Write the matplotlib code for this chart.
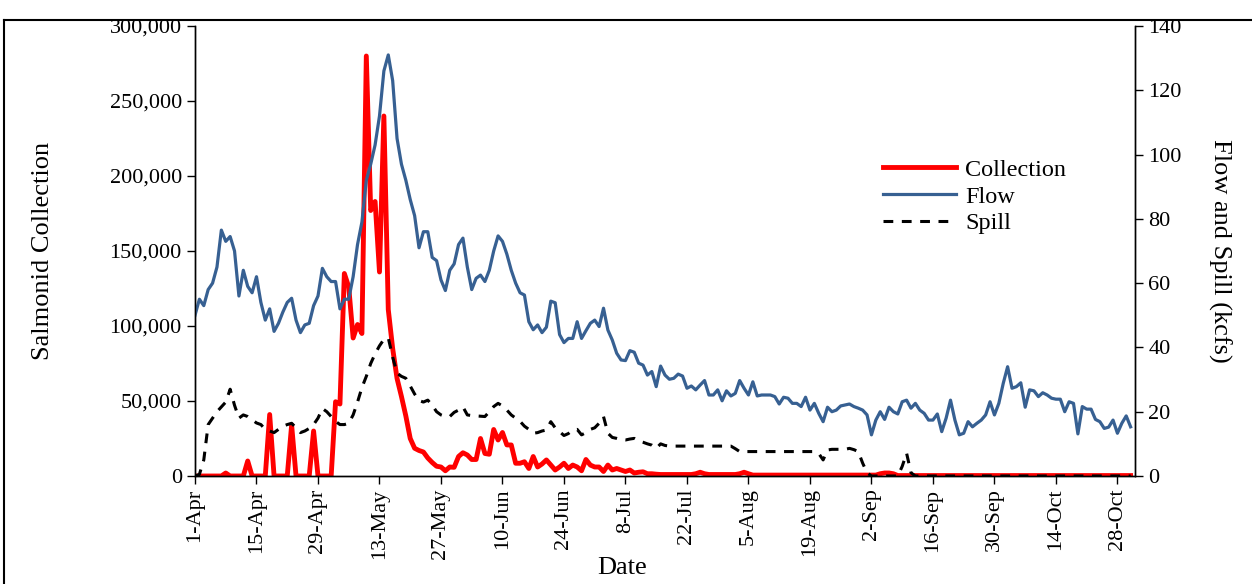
import numpy as np
import matplotlib
matplotlib.use('Agg')
import matplotlib.pyplot as plt
from matplotlib.ticker import FuncFormatter
from matplotlib.lines import Line2D

plt.rcParams['font.family'] = ['Liberation Serif', 'DejaVu Serif']

# daily values, 1-Apr .. 31-Oct
collection = [0, 0, 0, 0, 0, 0, 0, 2, 0, 0, 0, 0, 10, 0, 0, 0, 0, 41, 0, 0,
              0, 0, 34, 0, 0, 0, 0, 30, 0, 0, 0, 0, 49.5, 48, 135, 126, 92, 101, 95, 280,
              177, 183, 136, 240, 111, 85, 65, 53, 40, 25, 18.5, 17, 16, 12, 9, 6.5, 6, 3.5, 6, 5.8,
              13, 15.5, 14, 11, 11, 25, 15, 14.5, 31, 24, 29, 20.7, 20.7, 8.5, 8.5, 9.5, 5, 13, 6, 8,
              10.7, 7.3, 4, 6, 8.5, 5, 7.3, 6, 3.5, 11, 7.3, 6, 6, 3, 7.3, 4, 5, 4, 3, 4,
              2, 2.5, 2.8, 1.5, 1.5, 1.2, 1, 1, 1, 1, 1, 1, 1, 1, 1.5, 2.5, 1.5, 1, 1, 1,
              1, 1, 1, 1, 1.5, 2.5, 1.5] + [0.6] * 29 + [1.5, 2, 2, 1.5] + [0.3] * 54
collection = np.array(collection) * 1000  # fish

flow = [50, 55, 53, 58, 60, 65, 76.5, 73, 74.5, 70, 56, 64, 59, 57, 62, 54, 48.5, 52, 45, 47.5,
        51, 54, 55.3, 48.5, 44.6, 47, 47.5, 53, 56, 64.6, 62, 60.5, 60.5, 52, 55, 55, 62, 72, 79, 92,
        97, 103, 112, 126, 131, 123, 105, 97, 92, 86, 81, 71, 76, 76, 68, 67, 61, 57.7, 64, 66,
        72, 74, 65, 58, 61.5, 62.5, 60.5, 64, 70, 74.7, 73, 69, 64, 60, 57, 56.3, 48, 45.5, 47, 44.6,
        46.3, 54.4, 53.9, 44, 41.5, 42.8, 42.8, 48, 42.8, 45.2, 47.5, 48.5, 46.5, 52.2, 45.4, 42.3, 38.2, 36.1, 35.9, 39,
        38.5, 35.1, 34.5, 31.4, 32.5, 27.8, 34.2, 31.4, 30.1, 30.4, 31.7, 31.1, 27.3, 28, 26.8, 28.3, 29.7, 25.2, 25.2, 26.8,
        23.4, 26.5, 24.9, 25.7, 29.7, 27.3, 25.2, 29.3, 24.9, 25.2, 25.2, 25.2, 24.7, 22.4, 24.5, 24.2, 22.6, 22.6, 21.6, 24.5,
        20.5, 22.6, 19.5, 16.9, 21.4, 20, 20.5, 21.8, 22.1, 22.4, 21.6, 21.1, 20.5, 19, 12.8, 17.4, 20, 17.6, 21.4, 20,
        19.3, 23.1, 23.6, 21.1, 22.6, 20.5, 19.5, 17.4, 17.4, 19.3, 13.8, 18, 23.6, 17.4, 12.8, 13.3, 16.9, 15.3, 16.4, 17.4,
        19, 23.1, 19, 22.6, 28.8, 34, 27.3, 27.8, 29, 21.4, 26.8, 26.5, 24.7, 25.9, 25.2, 24.2, 23.9, 23.9, 20, 23.1,
        22.6, 13.1, 21.6, 20.8, 20.8, 17.6, 16.9, 14.8, 15.2, 17.4, 13.3, 16.4, 18.7, 15.3]

spill = [0, 0.5, 5, 16, 18, 20, 21.5, 23, 27, 22, 18, 19, 18.5, 17.5, 16.5, 16, 14.5, 14, 13.5, 14.5,
         15.5, 16, 16.4, 15, 13.5, 14, 14.8, 16, 18, 21, 20, 18.5, 17, 16, 16, 16.4, 19, 23, 27.5, 31,
         35, 38, 40.5, 42.5, 43, 37, 32, 31, 30.4, 28, 25.5, 23.5, 23, 23.6, 22, 20, 19, 18.5, 18.5, 19.8,
         20.5, 21.5, 19, 18.8, 18.7, 18.6, 18.5, 20, 21.6, 22.6, 21.8, 20.5, 19, 18, 17, 15.5, 14.5, 13.3, 13.5, 14,
         14.3, 16.9, 15, 13.8, 12.6, 13.2, 14.3, 14.5, 12.8, 13.5, 14.5, 15, 16.4, 18.5, 13.3, 12, 11.7, 11.3, 11.2, 11.5,
         11.7, 10.9, 10.5, 10, 9.6, 8.6, 10, 9.5] + [9.3] * 15 + [8.5] + [7.6] * 18 + \
        [7, 5, 8.1, 8.3, 8.3, 8.3, 8.3, 8.6, 8.2, 7.6, 4, 1] + [0] * 7 + [3, 7.1, 1] + [0] * 50

days = np.arange(len(flow))
tick_days = np.arange(0, 211, 14)
tick_labels = ['1-Apr', '15-Apr', '29-Apr', '13-May', '27-May', '10-Jun', '24-Jun', '8-Jul',
               '22-Jul', '5-Aug', '19-Aug', '2-Sep', '16-Sep', '30-Sep', '14-Oct', '28-Oct']

fig = plt.figure(figsize=(12.52, 5.84), dpi=100)
ax = fig.add_axes([195 / 1252, 1 - 476 / 584, (1135 - 195) / 1252, (476 - 26) / 584])
ax2 = ax.twinx()

ax.plot(days[:len(collection)], collection, color='#FF0000', lw=3.5, solid_joinstyle='round')
ax2.plot(days, flow, color='#376092', lw=2.3)
ax2.plot(days[:len(spill)], spill, color='black', lw=2.2, dashes=(3.2, 2.8))

ax.set_xlim(0, 214)
ax.set_ylim(0, 300000)
ax2.set_ylim(0, 140)
ax.set_yticks(np.arange(0, 300001, 50000))
ax.yaxis.set_major_formatter(FuncFormatter(lambda v, p: '{:,.0f}'.format(v)))
ax2.set_yticks(np.arange(0, 141, 20))
ax.set_xticks(tick_days)
ax.set_xticklabels(tick_labels, rotation=90)

for a in (ax, ax2):
    a.spines['top'].set_visible(False)
    a.tick_params(labelsize=16, length=6, width=1, direction='out')
    for s in a.spines.values():
        s.set_linewidth(1)
ax.tick_params(axis='x', pad=3)

ax.set_ylabel('Salmonid Collection', fontsize=19)
ax2.set_ylabel('Flow and Spill (kcfs)', fontsize=19, rotation=-90, labelpad=36)
ax.set_xlabel('Date', fontsize=19)
ax.yaxis.set_label_coords(-0.150, 0.5)
ax.xaxis.set_label_coords(0.454, -0.18)

handles = [Line2D([], [], color='#FF0000', lw=3.5),
           Line2D([], [], color='#376092', lw=2.3),
           Line2D([], [], color='black', lw=2.2, dashes=(3.2, 2.8))]
ax2.legend(handles, ['Collection', 'Flow', 'Spill'], loc='upper left',
           bbox_to_anchor=(873 / 1252, 1 - 149 / 584), bbox_transform=fig.transFigure,
           frameon=False, fontsize=17.5, handlelength=3.0, handletextpad=0.4,
           labelspacing=0.2, borderaxespad=0)

# outer chart border
fig.add_artist(Line2D([4 / 1252, 1], [1 - 20 / 584, 1 - 20 / 584], color='black', lw=1.5,
                      transform=fig.transFigure))
fig.add_artist(Line2D([4 / 1252, 4 / 1252], [0, 1 - 20 / 584], color='black', lw=1.5,
                      transform=fig.transFigure))

fig.savefig('out.png', dpi=100)
